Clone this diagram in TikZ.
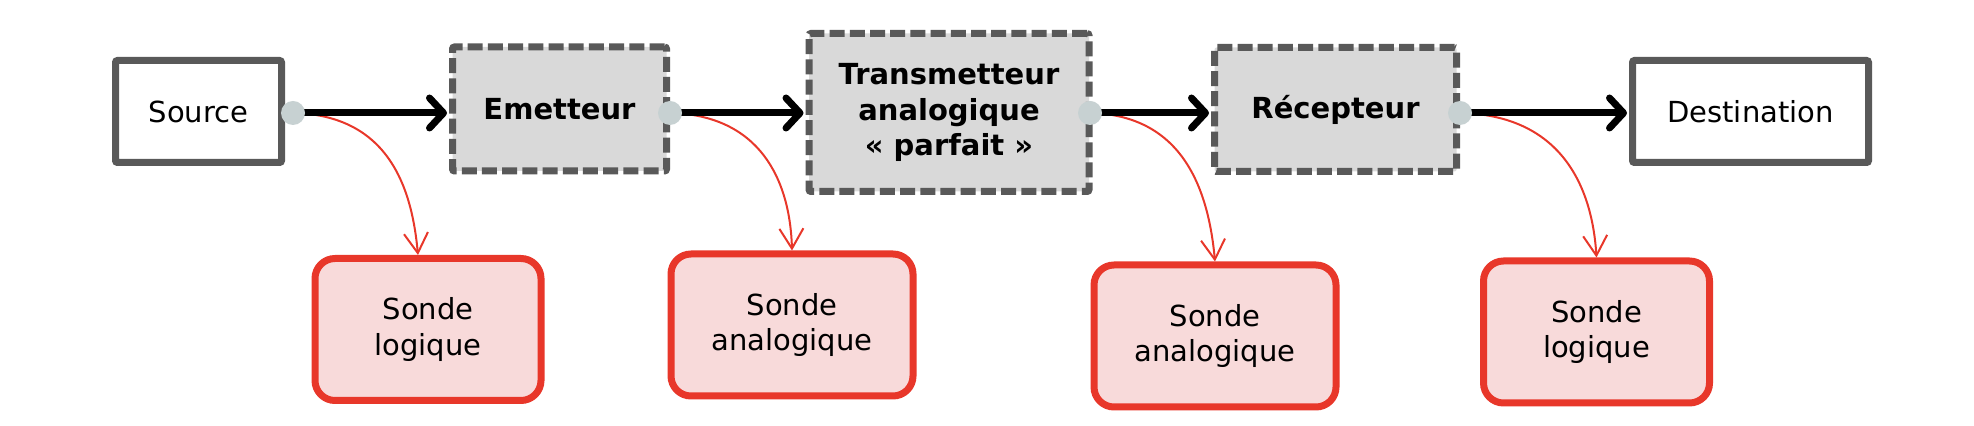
\documentclass[tikz,border=0pt]{standalone}
\usepackage{fontspec}
\setmainfont{DejaVu Sans}
\usetikzlibrary{arrows.meta}
\definecolor{boxgrey}{HTML}{595959}
\definecolor{fillgrey}{HTML}{D9D9D9}
\definecolor{dotgrey}{HTML}{C7D1D2}
\definecolor{probered}{HTML}{E8372A}
\definecolor{probefill}{HTML}{F8DADA}
\tikzset{
  txt/.style={font=\fontsize{14.5}{17.6}\selectfont, align=center, inner sep=0pt},
  endbox/.style={txt, draw=boxgrey, line width=3.5pt, fill=white, rounded corners=1pt},
  blockbox/.style={txt, draw=boxgrey, line width=3.5pt, fill=fillgrey, dash pattern=on 7.5pt off 2.6pt, rounded corners=1pt, font=\fontsize{14.5}{17.6}\selectfont\bfseries},
  probebox/.style={txt, draw=probered, line width=3.5pt, fill=probefill, rounded corners=10pt, minimum width=113pt, minimum height=71pt},
  port/.style={circle, fill=dotgrey, inner sep=0pt, minimum size=12pt},
  flow/.style={line width=3.5pt, black, -{Straight Barb[length=7pt,width=15pt,line cap=round,line join=round]}, shorten >=1pt},
  probe/.style={line width=1pt, probered, -{Straight Barb[length=10pt,width=12pt]}},
}
\begin{document}
\begin{tikzpicture}[x=0.5pt,y=-0.5pt]
\useasboundingbox (0,0) rectangle (1974,426);
% main blocks
\node[endbox, minimum width=83pt, minimum height=51pt] (src) at (198.5,111.5) {Source};
\node[blockbox, minimum width=107pt, minimum height=62pt] (em) at (559.5,109) {Emetteur};
\node[blockbox, minimum width=140pt, minimum height=79pt] (tr) at (949,112.5) {Transmetteur\\analogique\\« parfait »};
\node[blockbox, minimum width=121pt, minimum height=62pt] (rc) at (1335.5,109.5) {Récepteur};
\node[endbox, minimum width=118pt, minimum height=51pt] (dst) at (1750.5,111.5) {Destination};
% probes
\node[probebox] (p1) at (428,329.5) {Sonde\\logique};
\node[probebox, minimum width=121pt] (p2) at (792,325) {Sonde\\analogique};
\node[probebox, minimum width=121pt] (p3) at (1215,336) {Sonde\\analogique};
\node[probebox] (p4) at (1596.5,332) {Sonde\\logique};
% ports
\coordinate (c1) at (293,113);
\coordinate (c2) at (670,113);
\coordinate (c3) at (1090,113);
\coordinate (c4) at (1460,113);
% probe connectors
\draw[probe] (c1) .. controls (390,115) and (412,190) .. ([xshift=-5pt]p1.north);
\draw[probe] (c2) .. controls (760,115) and (790,180) .. (p2.north);
\draw[probe] (c3) .. controls (1180,115) and (1208,185) .. (p3.north);
\draw[probe] (c4) .. controls (1560,115) and (1592,185) .. (p4.north);
% flow arrows
\draw[flow] (c1) -- (em.west |- c1);
\draw[flow] (c2) -- (tr.west |- c2);
\draw[flow] (c3) -- (rc.west |- c3);
\draw[flow] (c4) -- (dst.west |- c4);
\node[port] (d1) at (c1) {};
\node[port] (d2) at (c2) {};
\node[port] (d3) at (c3) {};
\node[port] (d4) at (c4) {};
\end{tikzpicture}
\end{document}
